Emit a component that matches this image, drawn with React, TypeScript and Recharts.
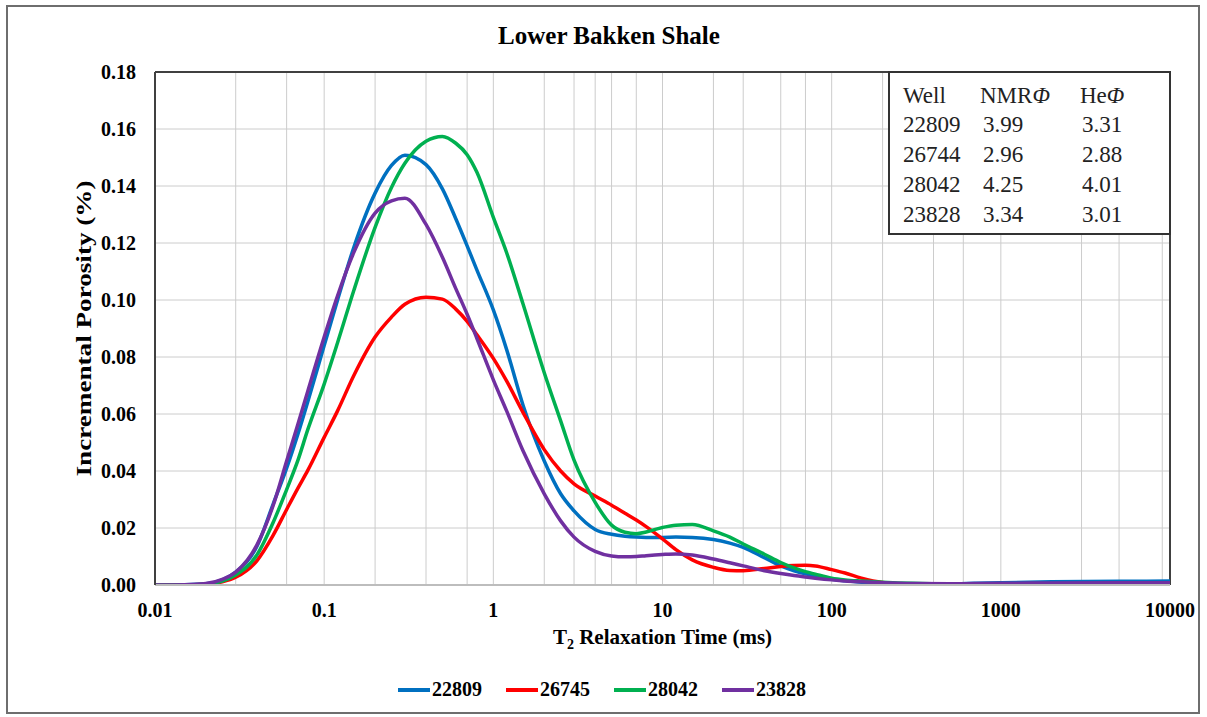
import { CartesianGrid, Legend, Line, LineChart, ReferenceLine, XAxis, YAxis } from 'recharts'

const FONT = '"Liberation Serif", "Times New Roman", serif'

// T2 relaxation time (ms) sample points
const T2_MS = [
  0.01, 0.015, 0.02, 0.025, 0.03, 0.04, 0.05, 0.06, 0.07, 0.08, 0.1, 0.12, 0.15, 0.2, 0.25, 0.3, 0.4, 0.5,
  0.6, 0.7, 0.8, 1, 1.2, 1.5, 2, 2.5, 3, 4, 5, 6, 7, 8, 10, 12, 15, 20, 25, 30, 40, 50, 60, 70, 80, 100,
  120, 150, 200, 300, 500, 700, 1000, 2000, 5000, 10000,
]

// incremental porosity (%) per well
const W22809 = [
  0, 0.0001, 0.0004, 0.0018, 0.0045, 0.0135, 0.0285, 0.041, 0.053, 0.0643, 0.084, 0.1, 0.1186, 0.1375,
  0.1472, 0.1508, 0.1475, 0.139, 0.1285, 0.119, 0.1105, 0.0965, 0.0825, 0.063, 0.0435, 0.032, 0.026, 0.0195,
  0.0178, 0.0171, 0.0168, 0.0167, 0.0167, 0.0168, 0.0167, 0.016, 0.0147, 0.0132, 0.0096, 0.0067, 0.005,
  0.0039, 0.0031, 0.002, 0.0015, 0.001, 0.0006, 0.0004, 0.0004, 0.0006, 0.0008, 0.0011, 0.0013, 0.0014,
]
const W26745 = [
  0, 0.0001, 0.0003, 0.0011, 0.0027, 0.0085, 0.0175, 0.0265, 0.034, 0.0402, 0.0518, 0.0611, 0.0736, 0.087,
  0.094, 0.0985, 0.101, 0.1003, 0.0968, 0.0925, 0.0878, 0.0795, 0.0715, 0.0605, 0.0475, 0.04, 0.0355, 0.0312,
  0.028, 0.0252, 0.0228, 0.0205, 0.0162, 0.0124, 0.0088, 0.0062, 0.0051, 0.005, 0.0058, 0.0065, 0.0068,
  0.0069, 0.0067, 0.0054, 0.0042, 0.0024, 0.0009, 0.0003, 0.0002, 0.0002, 0.0003, 0.0003, 0.0003, 0.0003,
]
const W28042 = [
  0, 0.0001, 0.0003, 0.0014, 0.0035, 0.0105, 0.022, 0.0335, 0.0438, 0.0545, 0.0705, 0.085, 0.1035, 0.1255,
  0.1395, 0.148, 0.1557, 0.1574, 0.155, 0.151, 0.1448, 0.129, 0.1165, 0.0985, 0.0745, 0.0576, 0.0438, 0.029,
  0.021, 0.0185, 0.018, 0.0186, 0.0202, 0.021, 0.0212, 0.019, 0.0168, 0.0144, 0.0108, 0.0079, 0.006, 0.0047,
  0.0038, 0.0024, 0.0018, 0.0014, 0.001, 0.0006, 0.0004, 0.0004, 0.0004, 0.0004, 0.0004, 0.0004,
]
const W23828 = [
  0, 0.0001, 0.0005, 0.002, 0.0045, 0.014, 0.028, 0.0435, 0.0565, 0.068, 0.087, 0.1015, 0.1168, 0.1305,
  0.1348, 0.1357, 0.1265, 0.115, 0.104, 0.095, 0.0865, 0.072, 0.061, 0.047, 0.032, 0.0225, 0.0168, 0.0118,
  0.0102, 0.0099, 0.01, 0.0103, 0.0107, 0.0109, 0.0105, 0.0091, 0.0078, 0.0067, 0.005, 0.004, 0.0033,
  0.0028, 0.0024, 0.0018, 0.0014, 0.0011, 0.0008, 0.0005, 0.0004, 0.0005, 0.0006, 0.0007, 0.0008, 0.0008,
]

const X_TICKS = [0.01, 0.1, 1, 10, 100, 1000, 10000]
const Y_TICKS = [0, 0.02, 0.04, 0.06, 0.08, 0.1, 0.12, 0.14, 0.16, 0.18]
const MINOR_X = X_TICKS.slice(0, -1).flatMap((d) => [1, 2, 3, 4, 5, 6, 7, 8, 9].map((k) => Number((d * k).toPrecision(3))))

// inset table
const TABLE_WELLS = ['22809', '26744', '28042', '23828']
const NMR_PHI = ['3.99', '2.96', '4.25', '3.34']
const HE_PHI = ['3.31', '2.88', '4.01', '3.01']

const SERIES = [
  { key: 'w22809', name: '22809', color: '#0070C0' },
  { key: 'w26745', name: '26745', color: '#FF0000' },
  { key: 'w28042', name: '28042', color: '#00B050' },
  { key: 'w23828', name: '23828', color: '#7030A0' },
]

const data = T2_MS.map((t, i) => ({
  t,
  w22809: W22809[i],
  w26745: W26745[i],
  w28042: W28042[i],
  w23828: W23828[i],
}))

function XAxisTitle({ viewBox }: any) {
  const cx = viewBox.x + viewBox.width / 2
  return (
    <text x={cx} y={viewBox.y + 59} textAnchor="middle" fontFamily={FONT} fontWeight="bold" fontSize={21} fill="#000">
      T<tspan fontSize={14} dy={5}>2</tspan>
      <tspan dy={-5}> Relaxation Time (ms)</tspan>
    </text>
  )
}

function YAxisTitle({ viewBox }: any) {
  const cy = viewBox.y + viewBox.height / 2
  const cx = 84
  return (
    <text
      x={cx}
      y={cy}
      transform={`rotate(-90 ${cx} ${cy})`}
      textAnchor="middle"
      dominantBaseline="central"
      fontFamily={FONT}
      fontWeight="bold"
      fontSize={21}
      textLength={296}
      lengthAdjust="spacingAndGlyphs"
      fill="#000"
    >
      Incremental Porosity (%)
    </text>
  )
}

function LegendContent({ payload }: any) {
  const order = SERIES.map((s) => s.name)
  const items = [...(payload || [])].sort((a: any, b: any) => order.indexOf(a.value) - order.indexOf(b.value))
  return (
    <div style={{ display: 'flex', alignItems: 'center', gap: 24 }}>
      {items.map((item: any) => (
        <div key={item.value} style={{ display: 'flex', alignItems: 'center' }}>
          <span style={{ display: 'inline-block', width: 32, height: 4, background: item.color, marginRight: 2 }} />
          <span style={{ fontFamily: FONT, fontWeight: 'bold', fontSize: 20, color: '#000' }}>{item.value}</span>
        </div>
      ))}
    </div>
  )
}

export default function App() {
  const tickStyle = { fill: '#000', fontSize: 20, fontWeight: 'bold', fontFamily: FONT }
  return (
    <div style={{ position: 'absolute', left: 0, top: 0, width: 1207, height: 717, background: '#fff' }}>
      <div
        style={{
          position: 'absolute',
          left: 6,
          top: 5,
          width: 1194,
          height: 709,
          boxSizing: 'border-box',
          border: '2px solid #6e6e6e',
        }}
      />
      <LineChart width={1207} height={717} data={data} margin={{ top: 72, right: 37, bottom: 72, left: 75 }}>
        <CartesianGrid stroke="#cccccc" strokeWidth={1} verticalValues={MINOR_X} horizontalValues={Y_TICKS} />
        <XAxis
          dataKey="t"
          type="number"
          scale="log"
          domain={[0.01, 10000]}
          ticks={X_TICKS}
          allowDataOverflow
          height={60}
          tickSize={0}
          tickMargin={18}
          tickLine={false}
          axisLine={{ stroke: '#bdbdbd', strokeWidth: 2 }}
          tick={tickStyle}
          tickFormatter={(v) => String(v)}
          label={XAxisTitle}
        />
        <YAxis
          type="number"
          domain={[0, 0.18]}
          ticks={Y_TICKS}
          allowDataOverflow
          width={80}
          tickSize={0}
          tickMargin={19}
          tickLine={false}
          axisLine={{ stroke: '#404040', strokeWidth: 2 }}
          tick={tickStyle}
          tickFormatter={(v) => Number(v).toFixed(2)}
          label={YAxisTitle}
        />
        <ReferenceLine y={0.18} stroke="#404040" strokeWidth={2} />
        <ReferenceLine x={10000} stroke="#404040" strokeWidth={2} />
        {SERIES.map((s) => (
          <Line
            key={s.key}
            dataKey={s.key}
            name={s.name}
            type="monotone"
            stroke={s.color}
            strokeWidth={3.5}
            dot={false}
            activeDot={false}
            isAnimationActive={false}
          />
        ))}
        <Legend
          layout="horizontal"
          verticalAlign="middle"
          align="center"
          itemSorter={null}
          content={LegendContent}
          wrapperStyle={{ top: 678, left: 398, width: 'auto' }}
        />
      </LineChart>
      <svg width={1207} height={717} style={{ position: 'absolute', left: 0, top: 0, pointerEvents: 'none' }}>
        <text x={609} y={44} textAnchor="middle" fontFamily={FONT} fontWeight="bold" fontSize={25} fill="#000">
          Lower Bakken Shale
        </text>
        <rect x={889} y={72} width={281} height={162} fill="#fff" stroke="#333" strokeWidth={2} />
        <g fontFamily={FONT} fontSize={23} fill="#222">
          <text x={903} y={103}>Well</text>
          <text x={980} y={103}>
            NMR<tspan fontStyle="italic">Φ</tspan>
          </text>
          <text x={1080} y={103}>
            He<tspan fontStyle="italic">Φ</tspan>
          </text>
          {TABLE_WELLS.map((w, i) => (
            <g key={w}>
              <text x={903} y={132 + i * 30}>{w}</text>
              <text x={983} y={132 + i * 30}>{NMR_PHI[i]}</text>
              <text x={1082} y={132 + i * 30}>{HE_PHI[i]}</text>
            </g>
          ))}
        </g>
      </svg>
    </div>
  )
}
